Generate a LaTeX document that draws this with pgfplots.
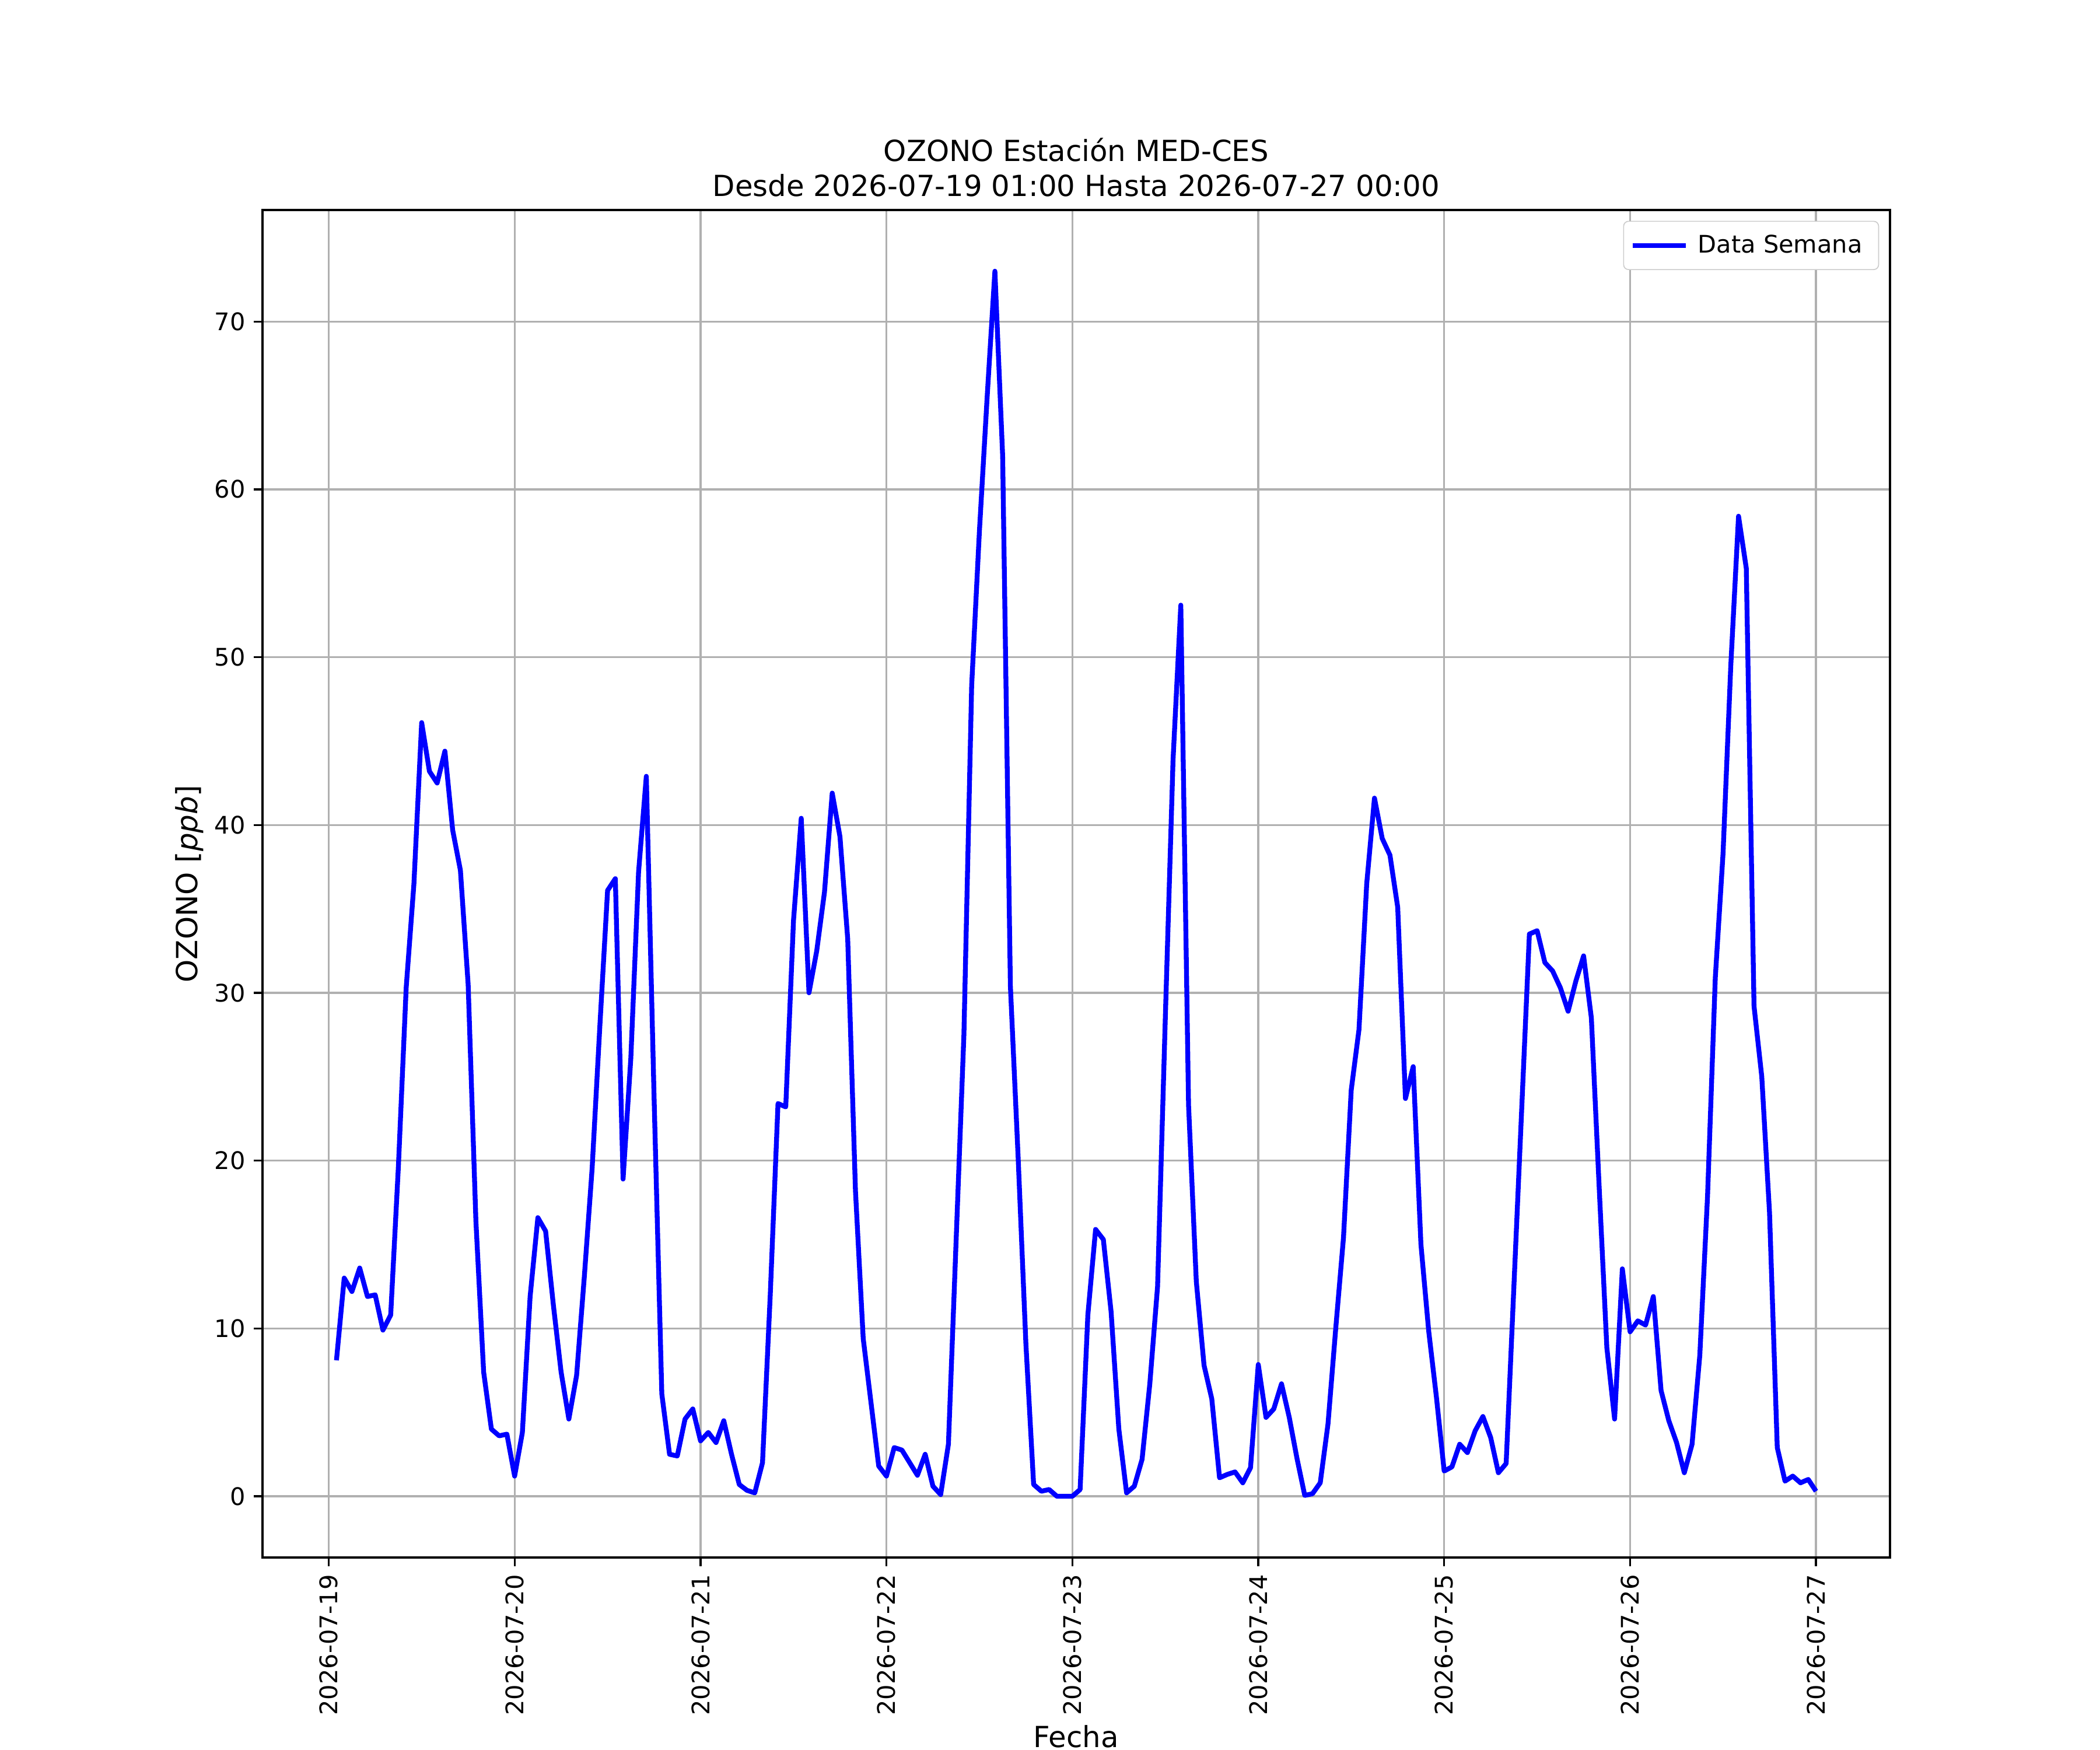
\documentclass[border=0pt]{standalone}
\usepackage{pgfplots}
\pgfplotsset{compat=1.18}
\usepackage{pgfplotstable}
\usepackage{fontspec}
\setmainfont{DejaVu Sans}
\definecolor{gridgray}{HTML}{B0B0B0}
\definecolor{legedge}{HTML}{CCCCCC}
\pgfplotstableread{
x y
1 8.1
2 13.0
3 12.2
4 13.6
5 11.9
6 12.0
7 9.9
8 10.8
9 19.7
10 30.3
11 36.5
12 46.1
13 43.2
14 42.5
15 44.4
16 39.7
17 37.3
18 30.5
19 16.4
20 7.4
21 4.0
22 3.6
23 3.7
24 1.2
25 3.8
26 11.9
27 16.6
28 15.8
29 11.4
30 7.4
31 4.6
32 7.2
33 13.1
34 19.5
35 28.0
36 36.1
37 36.8
38 18.9
39 26.1
40 37.2
41 42.9
42 23.8
43 6.1
44 2.5
45 2.4
46 4.6
47 5.2
48 3.3
49 3.8
50 3.2
51 4.5
52 2.5
53 0.7
54 0.35
55 0.2
56 2.0
57 12.0
58 23.4
59 23.2
60 34.3
61 40.4
62 30.0
63 32.5
64 36.0
65 41.9
66 39.3
67 33.2
68 18.2
69 9.4
70 5.6
71 1.8
72 1.2
73 2.9
74 2.75
75 2.0
76 1.25
77 2.5
78 0.6
79 0.1
80 3.1
81 15.3
82 27.5
83 48.3
84 57.5
85 65.5
86 73.0
87 62.0
88 30.4
89 20.2
90 9.1
91 0.7
92 0.3
93 0.4
94 0.0
95 0.0
96 0.0
97 0.4
98 10.8
99 15.9
100 15.3
101 11.0
102 4.0
103 0.2
104 0.6
105 2.2
106 6.7
107 12.5
108 28.5
109 43.9
110 53.1
111 23.3
112 12.8
113 7.8
114 5.8
115 1.1
116 1.3
117 1.45
118 0.8
119 1.7
120 7.85
121 4.7
122 5.2
123 6.7
124 4.7
125 2.25
126 0.05
127 0.15
128 0.8
129 4.3
130 10.0
131 15.4
132 24.2
133 27.8
134 36.5
135 41.6
136 39.2
137 38.2
138 35.1
139 23.7
140 25.6
141 15.0
142 9.85
143 5.9
144 1.5
145 1.75
146 3.1
147 2.6
148 3.9
149 4.75
150 3.5
151 1.4
152 1.95
153 12.5
154 23.0
155 33.5
156 33.7
157 31.8
158 31.3
159 30.3
160 28.9
161 30.7
162 32.2
163 28.5
164 18.5
165 8.85
166 4.6
167 13.55
168 9.8
169 10.45
170 10.2
171 11.9
172 6.3
173 4.5
174 3.2
175 1.4
176 3.1
177 8.4
178 17.9
179 30.9
180 38.3
181 49.5
182 58.4
183 55.3
184 29.2
185 25.0
186 16.9
187 2.9
188 0.9
189 1.2
190 0.8
191 1.0
192 0.3
}\ozono
\begin{document}
\begin{tikzpicture}
\useasboundingbox (0,0) rectangle (867.24pt,722.7pt);
\begin{axis}[
  at={(108.4pt,79.5pt)}, anchor=south west,
  scale only axis, width=672.1pt, height=556.5pt,
  xmin=-8.55, xmax=201.55, ymin=-3.65, ymax=76.65,
  xtick={0,24,48,72,96,120,144,168,192},
  xticklabels={2026-07-19,2026-07-20,2026-07-21,2026-07-22,2026-07-23,2026-07-24,2026-07-25,2026-07-26,2026-07-27},
  ytick={0,10,20,30,40,50,60,70},
  /pgf/number format/assume math mode=true,
  tick label style={font=\fontsize{10}{12}\selectfont},
  xticklabel style={rotate=90, anchor=east},
  tick align=outside, tick pos=left,
  major tick length=3.5pt,
  every tick/.style={black, line width=0.8pt},
  axis line style={line width=0.8pt},
  grid=major,
  grid style={gridgray, line width=0.8pt},
  xlabel={Fecha},
  ylabel={OZONO [\textit{ppb}]},
  ylabel shift=-2.3pt,
  label style={font=\fontsize{12}{14.4}\selectfont},
  xlabel style={at={(axis description cs:0.5,0)}, anchor=base, yshift=-78.3pt},
  title={OZONO Estación MED-CES\\Desde 2026-07-19 01:00 Hasta 2026-07-27 00:00},
  title style={align=center, font=\fontsize{12}{14.4}\selectfont, yshift=-4pt},
  legend style={at={(rel axis cs:1,1)}, anchor=north east, xshift=-4.5pt, yshift=-4.5pt,
    draw=legedge, rounded corners=2pt, font=\fontsize{10}{12}\selectfont,
    inner xsep=2.7pt, inner ysep=3.5pt},
  legend cell align=left,
  legend image code/.code={\draw[#1] (0pt,0pt) -- (22pt,0pt);},
  legend style={nodes={inner xsep=4pt}},
]
\addplot[blue, line width=2pt, line join=round] table[x=x,y=y] {\ozono};
\addlegendentry{Data Semana}
\end{axis}
\end{tikzpicture}
\end{document}
